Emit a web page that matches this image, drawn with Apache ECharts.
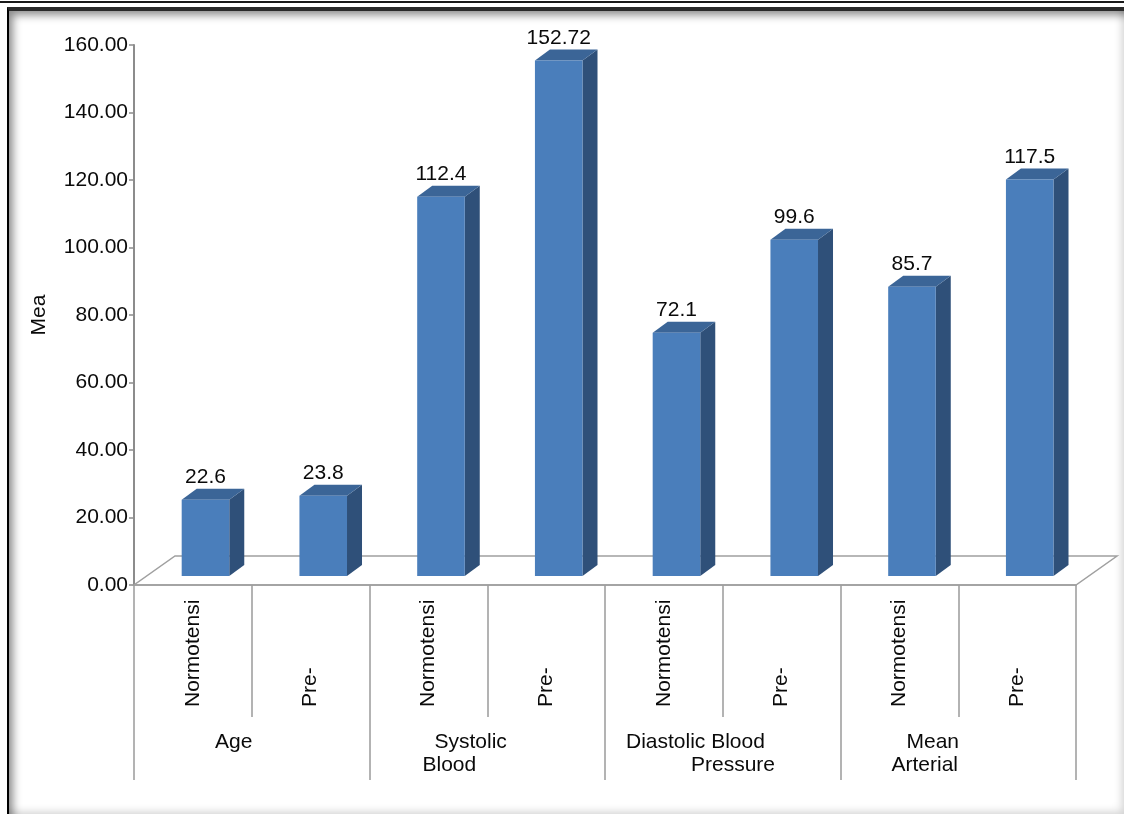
<!DOCTYPE html>
<html>
<head>
<meta charset="utf-8">
<script src="https://cdn.jsdelivr.net/npm/echarts@6/dist/echarts.min.js"></script>
<style>
  html, body { margin: 0; padding: 0; background: #fff; }
  .topline { position: absolute; left: 0; top: 1px; width: 1124px; height: 2px; background: #1a1a1a; }
  .frame {
    position: absolute; left: 7px; top: 7px; width: 1115px; height: 804px;
    border-left: 2px solid #000; border-top: 4px solid #2a2a2a;
    box-shadow: inset 7px 7px 9px -3px rgba(0,0,0,0.45), inset -6px -7px 8px -4px rgba(0,0,0,0.18);
  }
  #chart { position: absolute; left: 0; top: 0; width: 1124px; height: 814px; }
</style>
</head>
<body>
<div class="topline"></div>
<div class="frame"></div>
<div id="chart"></div>
<script>
// data
const categories = ["Normotensi", "Pre-", "Normotensi", "Pre-", "Normotensi", "Pre-", "Normotensi", "Pre-"];
const groups = ["Age", "Systolic\nBlood", "Diastolic Blood\nPressure", "Mean\nArterial"];
const means = [22.6, 23.8, 112.4, 152.72, 72.1, 99.6, 85.7, 117.5];
const yMin = 0;
const yMax = 160;
const yStep = 20;
const yName = "Mea";

// layout only (left indent of each group label line, px)
const groupIndent = [[81], [65, 53], [21, 86], [66, 51]];

const font = "Liberation Sans, Arial, sans-serif";
const FS = 21;
const INK = "#0a0a0a";
const FRONT = "#4a7ebb";
const SIDE = "#2f5079";
const TOP = "#3b6597";
const DEPTH_X = 15, DEPTH_Y = -11;   // bar depth
const LIFT = -9;                      // bars sit a bit back on the floor
const FLOOR_X = 41, FLOOR_Y = -29;    // floor depth

const chart = echarts.init(document.getElementById("chart"));

// second category axis: group boundaries (9 points, labels at every other one)
const groupAxis = [];
groups.forEach((g) => groupAxis.push(g, ""));
groupAxis.push("");

const rich = {};
groupIndent.forEach((lines, gi) => {
  lines.forEach((p, li) => {
    rich["g" + gi + "l" + li] = {
      fontSize: FS, fontFamily: font, color: INK, lineHeight: 23,
      padding: [0, 0, 0, p],
    };
  });
});

const option = {
  animation: false,
  grid: { left: 134, right: 48, top: 45, bottom: 229, outerBoundsMode: "none" },
  xAxis: [
    {
      type: "category",
      data: categories,
      position: "bottom",
      axisLine: { show: true, lineStyle: { color: "#9a9a9a", width: 1.5 } },
      axisTick: { show: true, length: 132, lineStyle: { color: "#9a9a9a", width: 1.5 } },
      axisLabel: {
        rotate: 90, align: "left", verticalAlign: "middle", margin: 122,
        fontSize: FS, fontFamily: font, color: INK, interval: 0,
      },
      splitLine: { show: false },
    },
    {
      type: "category",
      data: groupAxis,
      boundaryGap: false,
      position: "bottom",
      axisLine: { show: false },
      axisTick: { show: true, interval: 1, length: 195, lineStyle: { color: "#9a9a9a", width: 1.5 } },
      axisLabel: {
        interval: 1, align: "left", verticalAlign: "top", margin: 146,
        fontSize: FS, fontFamily: font, color: INK, lineHeight: 23,
        formatter: (value, index) => {
          if (!value) return "";
          const gi = index / 2;
          return value.split("\n").map((l, li) => "{g" + gi + "l" + li + "|" + l + "}").join("\n");
        },
        rich: rich,
      },
      splitLine: { show: false },
    },
  ],
  yAxis: {
    type: "value",
    min: yMin,
    max: yMax,
    interval: yStep,
    name: yName,
    nameLocation: "middle",
    nameGap: 84,
    nameRotate: 90,
    nameTextStyle: { fontSize: FS, fontFamily: font, color: INK },
    axisLine: { show: true, lineStyle: { color: "#8c8c8c", width: 2 } },
    axisTick: { show: true, length: 5, lineStyle: { color: "#8c8c8c", width: 1.5 } },
    axisLabel: {
      margin: 6, fontSize: FS, fontFamily: font, color: INK,
      formatter: (v) => v.toFixed(2),
    },
    splitLine: { show: false },
  },
  series: [
    {
      // floor of the 3D plot
      type: "custom",
      z: 1,
      silent: true,
      data: [[0, 0]],
      renderItem: (params, api) => {
        const band = api.size([1, 0])[0];
        const first = api.coord([0, 0]);
        const last = api.coord([categories.length - 1, 0]);
        const L = first[0] - band / 2;
        const R = last[0] + band / 2;
        const y = first[1];
        return {
          type: "polygon",
          shape: { points: [[L, y], [R, y], [R + FLOOR_X, y + FLOOR_Y], [L + FLOOR_X, y + FLOOR_Y]] },
          style: { fill: "none", stroke: "#a0a0a0", lineWidth: 1.5 },
        };
      },
    },
    {
      type: "custom",
      z: 2,
      data: means.map((v, i) => [i, v]),
      encode: { x: 0, y: 1 },
      renderItem: (params, api) => {
        const i = api.value(0);
        const v = api.value(1);
        const band = api.size([1, 0])[0];
        const top = api.coord([i, v]);
        const base = api.coord([i, 0]);
        const bw = band * 0.404;
        const fx = top[0] - band * 0.095;
        const yT = top[1] + LIFT;
        const yB = base[1] + LIFT;
        return {
          type: "group",
          children: [
            {
              type: "polygon",
              shape: { points: [[fx + bw, yT], [fx + bw + DEPTH_X, yT + DEPTH_Y], [fx + bw + DEPTH_X, yB + DEPTH_Y], [fx + bw, yB]] },
              style: { fill: SIDE },
            },
            {
              type: "polygon",
              shape: { points: [[fx, yT], [fx + DEPTH_X, yT + DEPTH_Y], [fx + bw + DEPTH_X, yT + DEPTH_Y], [fx + bw, yT]] },
              style: { fill: TOP },
            },
            {
              type: "rect",
              shape: { x: fx, y: yT, width: bw, height: yB - yT },
              style: { fill: FRONT },
            },
            {
              type: "text",
              x: fx + bw / 2,
              y: yT + DEPTH_Y - 1,
              style: {
                text: String(means[i]),
                align: "center",
                verticalAlign: "bottom",
                fontSize: FS,
                fontFamily: font,
                fill: INK,
              },
            },
          ],
        };
      },
    },
  ],
};

chart.setOption(option);
</script>
</body>
</html>
